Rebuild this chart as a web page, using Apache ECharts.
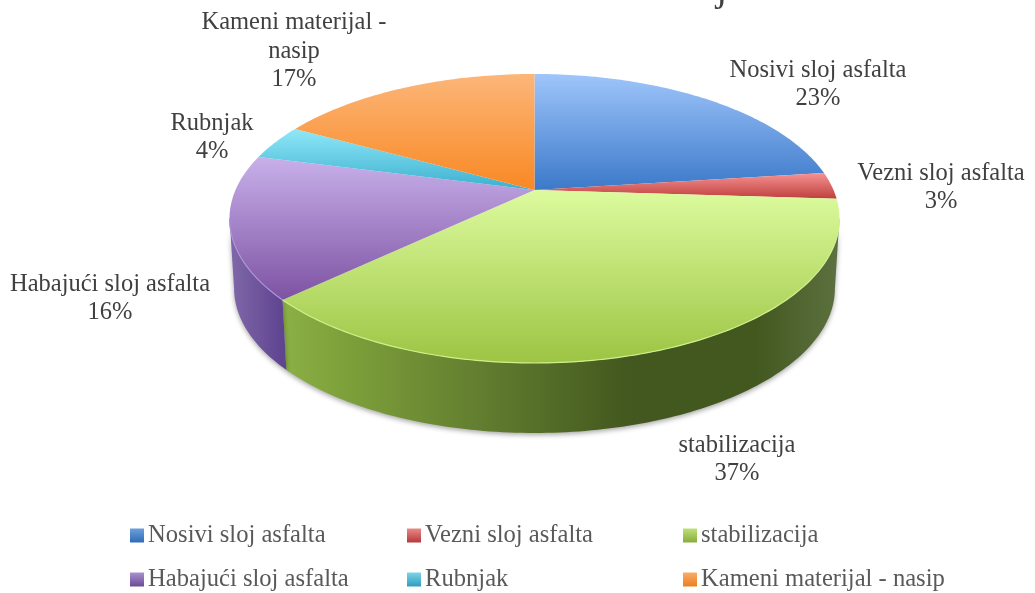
<!DOCTYPE html>
<html><head><meta charset="utf-8">
<script src="https://cdn.jsdelivr.net/npm/echarts@6/dist/echarts.min.js"></script>
<style>html,body{margin:0;padding:0;background:#fff}#c{width:1035px;height:593px}</style>
</head><body><div id="c"></div>
<script>
const categories = ['Nosivi sloj asfalta','Vezni sloj asfalta','stabilizacija','Habajući sloj asfalta','Rubnjak','Kameni materijal - nasip'];
const values = [23,3,37,16,4,17];
const labelTexts = ['Nosivi sloj asfalta','Vezni sloj asfalta','stabilizacija','Habajući sloj asfalta','Rubnjak','Kameni materijal -\nnasip'];

// styling and layout
const topColors = [['#9fc5fb','#3b79c9'],['#f59393','#bf3f3c'],['#dcfb9e','#9dc443'],['#c8b0ea','#7d52a3'],['#90e8f8','#3cafcf'],['#fcb679','#f98823']];
const rimColors = ['#7fa8e0','#e58a88','#cdf08a','#b094d8','#8fdcec','#f8b070'];
const wallStops = [
  [[0,'#2f5f9f'],[1,'#2f5f9f']],
  [[0,'#8f2f2d'],[1,'#8f2f2d']],
  [[0,'#8bb045'],[.12,'#7d9f3a'],[.38,'#5f7a2e'],[.62,'#43581e'],[.85,'#43581f'],[1,'#5d7140']],
  [[0,'#8069aa'],[1,'#5f4490']],
  [[0,'#2e8aa5'],[1,'#2e8aa5']],
  [[0,'#c06a1c'],[1,'#c06a1c']]
];
const legendSwatch = [['#6d9fdc','#2f6bb8'],['#e88a88','#b5393a'],['#bfe07a','#86ad3a'],['#ab90cf','#6a4a96'],['#7cd4e8','#2f9dbd'],['#f8ad6a','#e9801f']];
const labelAnchors = [[818,84.5],[941,187.5],[737,459.5],[110,298.5],[212,137.5],[294,51.5]];
const legendSlots = [[130,523],[407,523],[683,523],[130,567],[407,567],[683,567]];

const CX=534.5, CY=190, AX=299, BY=138.9, K=0.197, DEPTH=70, SX=0.985;
const total = values.reduce((a,b)=>a+b,0);
const FONT = '"Liberation Serif", serif';
const G = echarts.graphic;
const FRONT0 = Math.acos(-K), FRONT1 = 2*Math.PI-Math.acos(-K);

function proj(theta){
  const X=Math.sin(theta), Y=-Math.cos(theta), w=1/(1-K*Y);
  return [CX+AX*X*w, CY+BY*Y*w];
}
function arc(a0,a1){
  const n=Math.max(2,Math.ceil((a1-a0)/(Math.PI/180))), p=[];
  for(let i=0;i<=n;i++) p.push(proj(a0+(a1-a0)*i/n));
  return p;
}
function makeRender(idx){
  return function(){
    const before = values.slice(0,idx).reduce((a,b)=>a+b,0);
    const a0 = before/total*2*Math.PI, a1 = (before+values[idx])/total*2*Math.PI;
    const rim = arc(a0,a1);
    const children = [
      {type:'polygon', z2:10, shape:{points:[[CX,CY]].concat(rim)}, style:{
        fill:new G.LinearGradient(0,0,0,1,[{offset:0,color:topColors[idx][0]},{offset:1,color:topColors[idx][1]}]),
        stroke:null}},
      {type:'text', z2:20, x:labelAnchors[idx][0], y:labelAnchors[idx][1], style:{
        text:labelTexts[idx]+'\n'+Math.round(values[idx]/total*100)+'%',
        font:'24.5px '+FONT, fill:'#404040', align:'center', verticalAlign:'middle', lineHeight:28.5}}
    ];
    const f0=Math.max(a0,FRONT0), f1=Math.min(a1,FRONT1);
    if(f1>f0){
      const front = arc(f0,f1);
      const bottom = front.map(p=>[CX+(p[0]-CX)*SX, p[1]+DEPTH]).reverse();
      const xs = front.map(p=>p[0]);
      children.push(
        {type:'polygon', z2:1, shape:{points:front.concat(bottom)}, style:{
          fill:new G.LinearGradient(Math.min(...xs),0,Math.max(...xs),0,wallStops[idx].map(s=>({offset:s[0],color:s[1]})),true),
          shadowColor:'rgba(0,0,0,0.35)', shadowBlur:5, shadowOffsetY:2}},
        {type:'polyline', z2:11, shape:{points:front}, style:{fill:null,stroke:rimColors[idx],lineWidth:1.2}}
      );
    }
    return {type:'group', children};
  };
}
const chart = echarts.init(document.getElementById('c'),null,{renderer:'canvas'});
chart.setOption({
  animation:false,
  backgroundColor:'#fff',
  title:{text:'j',left:716,top:-31,padding:0,textStyle:{fontFamily:FONT,fontSize:40,fontWeight:'normal',color:'#404040'}},
  tooltip:{show:false},
  legend:categories.map((c,i)=>({
    left:legendSlots[i][0], top:legendSlots[i][1], padding:0, itemWidth:14, itemHeight:14, icon:'rect',
    selectedMode:false,
    textStyle:{fontFamily:FONT,fontSize:24.6,color:'#595959',padding:[0,0,0,-1]},
    data:[{name:c,itemStyle:{color:new G.LinearGradient(0,0,0,1,[{offset:0,color:legendSwatch[i][0]},{offset:1,color:legendSwatch[i][1]}])}}]
  })),
  series:categories.map((c,i)=>({
    type:'custom', name:c, coordinateSystem:'none', silent:true, clip:false,
    renderItem:makeRender(i), data:[values[i]],
    itemStyle:{color:topColors[i][1]}
  }))
});
</script></body></html>
